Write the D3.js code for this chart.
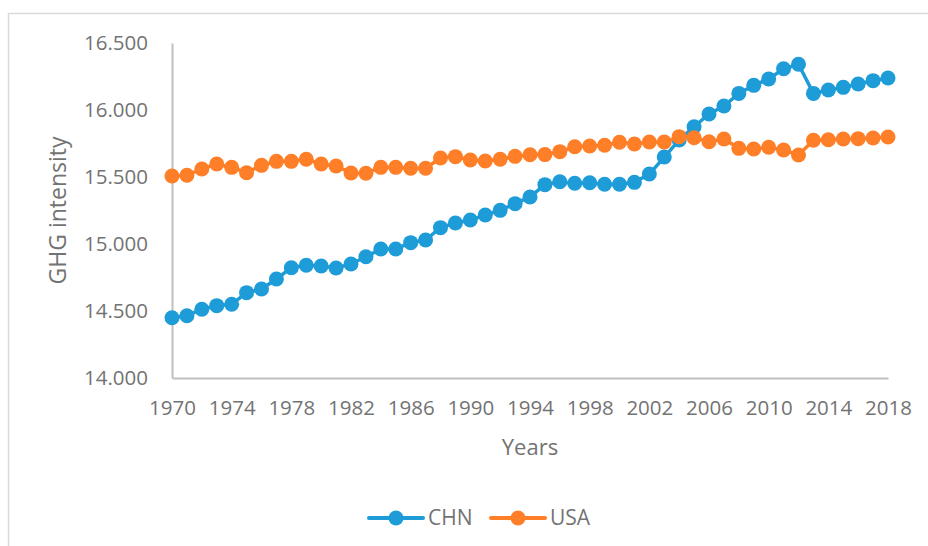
<!DOCTYPE html>
<html>
<head>
<meta charset="utf-8">
<script src="https://cdn.jsdelivr.net/npm/d3@7"></script>
<style>
  body { margin: 0; background: #fff; }
  text { font-family: "Open Sans", "Noto Sans", sans-serif; fill: #737373; }
</style>
</head>
<body>
<div class="chart"></div>
<script>
var years = d3.range(1970, 2019);

var chn = [14.450, 14.465, 14.513, 14.540, 14.550, 14.637, 14.664, 14.739, 14.823, 14.841,
           14.836, 14.821, 14.851, 14.905, 14.963, 14.963, 15.010, 15.030, 15.122, 15.157,
           15.179, 15.216, 15.251, 15.301, 15.351, 15.443, 15.465, 15.453, 15.457, 15.446,
           15.446, 15.460, 15.522, 15.649, 15.776, 15.875, 15.970, 16.030, 16.124, 16.184,
           16.231, 16.308, 16.341, 16.124, 16.149, 16.169, 16.194, 16.219, 16.239];

var usa = [15.507, 15.513, 15.560, 15.597, 15.572, 15.532, 15.587, 15.617, 15.617, 15.632,
           15.597, 15.582, 15.530, 15.528, 15.572, 15.572, 15.565, 15.565, 15.642, 15.652,
           15.627, 15.619, 15.632, 15.654, 15.666, 15.667, 15.689, 15.726, 15.731, 15.737,
           15.759, 15.746, 15.761, 15.761, 15.801, 15.793, 15.763, 15.784, 15.714, 15.709,
           15.722, 15.701, 15.664, 15.774, 15.778, 15.784, 15.786, 15.791, 15.799];

var yTicks = [14.0, 14.5, 15.0, 15.5, 16.0, 16.5];
var xTicks = d3.range(1970, 2019, 4);

var seriesNames = ["CHN", "USA"];
var seriesColors = ["#1d9cd8", "#fe7f27"];

var svgWidth = 928;
var svgHeight = 546;

var margin = { top: 43, right: 40, bottom: 168, left: 172 };
var width = svgWidth - margin.left - margin.right;
var height = svgHeight - margin.top - margin.bottom;

var svg = d3.select(".chart")
    .append("svg")
    .attr("width", svgWidth)
    .attr("height", svgHeight);

// outer chart border (runs off the right and bottom of the picture)
svg.append("rect")
    .attr("x", 8.5)
    .attr("y", 13.5)
    .attr("width", 940)
    .attr("height", 560)
    .attr("fill", "none")
    .attr("stroke", "#d9d9d9")
    .attr("stroke-width", 1.5);

var chartGroup = svg.append("g")
    .attr("transform", `translate(${margin.left}, ${margin.top})`);

var x = d3.scaleLinear()
    .domain([1970, 2018])
    .range([0, width]);

var y = d3.scaleLinear()
    .domain([14, 16.5])
    .range([height, 0]);

// axes
var bottomAxis = d3.axisBottom(x)
    .tickValues(xTicks)
    .tickFormat(d3.format("d"))
    .tickSize(0)
    .tickPadding(22);

var leftAxis = d3.axisLeft(y)
    .tickValues(yTicks)
    .tickFormat(d3.format(".3f"))
    .tickSize(0)
    .tickPadding(24);

var xAxisG = chartGroup.append("g")
    .attr("transform", `translate(0, ${height})`)
    .call(bottomAxis);

var yAxisG = chartGroup.append("g").call(leftAxis);

[xAxisG, yAxisG].forEach(function(g) {
    g.select(".domain").attr("stroke", "#bfbfbf").attr("stroke-width", 2);
    g.selectAll("text")
        .attr("fill", "#737373")
        .style("font-size", "20.5px")
        .style("font-family", "'Open Sans', 'Noto Sans', sans-serif");
});

// series
var allSeries = [chn, usa];
var line = d3.line()
    .x(function(d, i) { return x(years[i]); })
    .y(function(d) { return y(d); });

allSeries.forEach(function(values, k) {
    var g = chartGroup.append("g");
    g.append("path")
        .datum(values)
        .attr("d", line)
        .attr("fill", "none")
        .attr("stroke", seriesColors[k])
        .attr("stroke-width", 3.5);
    g.selectAll("circle")
        .data(values)
        .enter()
        .append("circle")
        .attr("cx", function(d, i) { return x(years[i]); })
        .attr("cy", function(d) { return y(d); })
        .attr("r", 7.5)
        .attr("fill", seriesColors[k]);
});

// axis titles
svg.append("text")
    .attr("transform", "translate(66, " + (margin.top + height / 2) + ") rotate(-90)")
    .attr("text-anchor", "middle")
    .style("font-size", "23px")
    .text("GHG intensity");

svg.append("text")
    .attr("x", margin.left + width / 2)
    .attr("y", 455)
    .attr("text-anchor", "middle")
    .style("font-size", "22px")
    .text("Years");

// legend
var legendX = [369, 491];
seriesNames.forEach(function(name, k) {
    var lg = svg.append("g").attr("transform", `translate(${legendX[k]}, 518)`);
    lg.append("line")
        .attr("x1", 0).attr("x2", 54)
        .attr("y1", 0).attr("y2", 0)
        .attr("stroke", seriesColors[k])
        .attr("stroke-width", 4)
        .attr("stroke-linecap", "round");
    lg.append("circle")
        .attr("cx", 27).attr("cy", 0)
        .attr("r", 7.5)
        .attr("fill", seriesColors[k]);
    lg.append("text")
        .attr("x", 59)
        .attr("y", 0)
        .attr("dy", "0.35em")
        .style("font-size", "21px")
        .text(name);
});
</script>
</body>
</html>
